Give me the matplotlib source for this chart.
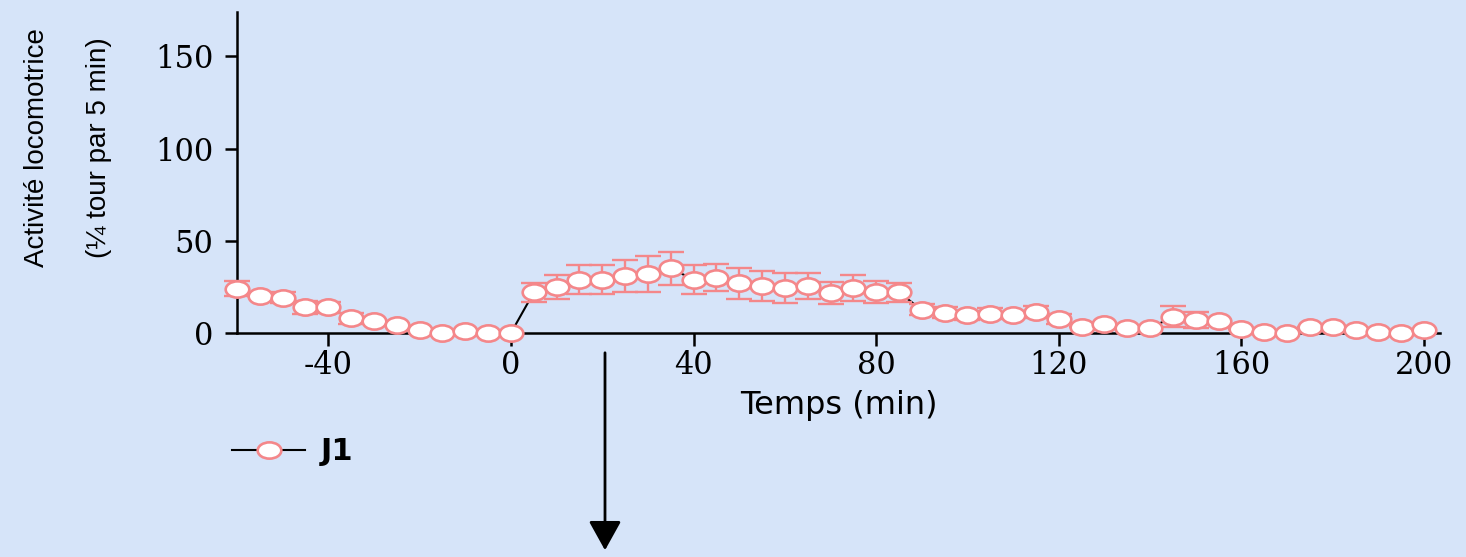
import numpy as np
import matplotlib
matplotlib.use('Agg')
import matplotlib.pyplot as plt
from matplotlib.path import Path
from matplotlib.transforms import Affine2D
from matplotlib import font_manager

# données (activité moyenne +/- erreur, toutes les 5 min)
temps = np.arange(-60, 201, 5)
activite = [24, 20, 19, 14, 14, 8, 6.5, 4.3, 1.6, 0, 1, 0,
            0, 22, 25, 29, 29, 31, 32, 35, 29, 30, 27, 25.5, 24.5, 25.5, 21.7, 24.5, 22.3, 22,
            12.5, 11, 9.5, 10.5, 9.5, 11.4, 7.6, 3.2, 4.9, 2.7, 2.7, 8.7, 7, 6.5,
            2, 0.5, 0, 3.3, 3.3, 1.6, 0.5, 0, 1.6]
erreur = [4, 0, 3, 3.5, 3, 3, 0, 0, 0, 0, 0, 0,
          0, 5, 6.5, 7.6, 7.6, 8.7, 9.8, 9, 8, 7.3, 8.4, 8, 8, 7, 6, 7, 6, 5,
          3, 3, 2.5, 3, 0, 3.5, 2.5, 0, 0, 0, 0, 5.7, 4.3, 0,
          0, 0, 0, 0, 0, 0, 0, 0, 0]

fond = '#d6e4f9'
rose = '#f4878a'

plt.rcParams['axes.unicode_minus'] = False

noms = {f.name for f in font_manager.fontManager.ttflist}
police_etroite = 'Liberation Sans Narrow' if 'Liberation Sans Narrow' in noms else 'Liberation Sans'
taille_etroite = 24 if police_etroite == 'Liberation Sans Narrow' else 20

# marqueur ovale (le graphique d'origine est étiré horizontalement)
ovale = Path.unit_circle().transformed(Affine2D().scale(1.45, 1.0))

fig = plt.figure(figsize=(14.66, 5.57), dpi=100, facecolor=fond)
ax = fig.add_axes([237 / 1466, 1 - 333 / 557, (1440 - 237) / 1466, (333 - 12) / 557])
ax.set_facecolor(fond)

ax.plot(temps, activite, color='black', lw=1.5, zorder=2, clip_on=False)
ax.errorbar(temps, activite, yerr=erreur, fmt='none', ecolor=rose, elinewidth=1.7,
            capsize=9.5, capthick=1.7, zorder=3, clip_on=False)
ax.plot(temps, activite, linestyle='none', marker=ovale, ms=17, mfc='white',
        mec=rose, mew=1.9, zorder=4, clip_on=False)

ax.set_xlim(-60, 203.5)
ax.set_ylim(0, 174)
ax.set_xticks([-40, 0, 40, 80, 120, 160, 200])
ax.set_yticks([0, 50, 100, 150])
for s in ['top', 'right']:
    ax.spines[s].set_visible(False)
for s in ['left', 'bottom']:
    ax.spines[s].set_linewidth(1.8)
ax.tick_params(direction='out', length=9, width=1.8)
ax.tick_params(axis='x', pad=3)
ax.tick_params(axis='y', pad=8)
for lab in ax.get_xticklabels() + ax.get_yticklabels():
    lab.set_fontfamily('DejaVu Serif')
    lab.set_fontsize(22)

ax.set_xlabel('Temps (min)', fontsize=23, family='DejaVu Sans', labelpad=7)

fig.text(37 / 1466, 1 - 148 / 557, 'Activité locomotrice', rotation=90,
         ha='center', va='center', fontsize=taille_etroite, family=police_etroite)
fig.text(99 / 1466, 1 - 148 / 557, '(¼ tour par 5 min)', rotation=90,
         ha='center', va='center', fontsize=taille_etroite, family=police_etroite)

# légende
poignee, = ax.plot([], [], color='black', lw=1.5, marker=ovale, ms=17,
                   mfc='white', mec=rose, mew=1.9)
fig.legend([poignee], ['J1'], loc='center left', bbox_to_anchor=(232 / 1466, 1 - 452 / 557),
           frameon=False, borderpad=0, borderaxespad=0, handlelength=2.4,
           handletextpad=0.5, numpoints=1, prop={'family': 'DejaVu Sans', 'weight': 'bold', 'size': 22})

# flèche
fig.add_artist(matplotlib.patches.FancyArrowPatch(
    (605 / 1466, 1 - 350 / 557), (605 / 1466, 1 - 553 / 557), transform=fig.transFigure,
    arrowstyle='-|>,head_length=0.9,head_width=0.5', mutation_scale=20,
    color='black', lw=2))

fig.savefig('out.png', dpi=100, facecolor=fond)
